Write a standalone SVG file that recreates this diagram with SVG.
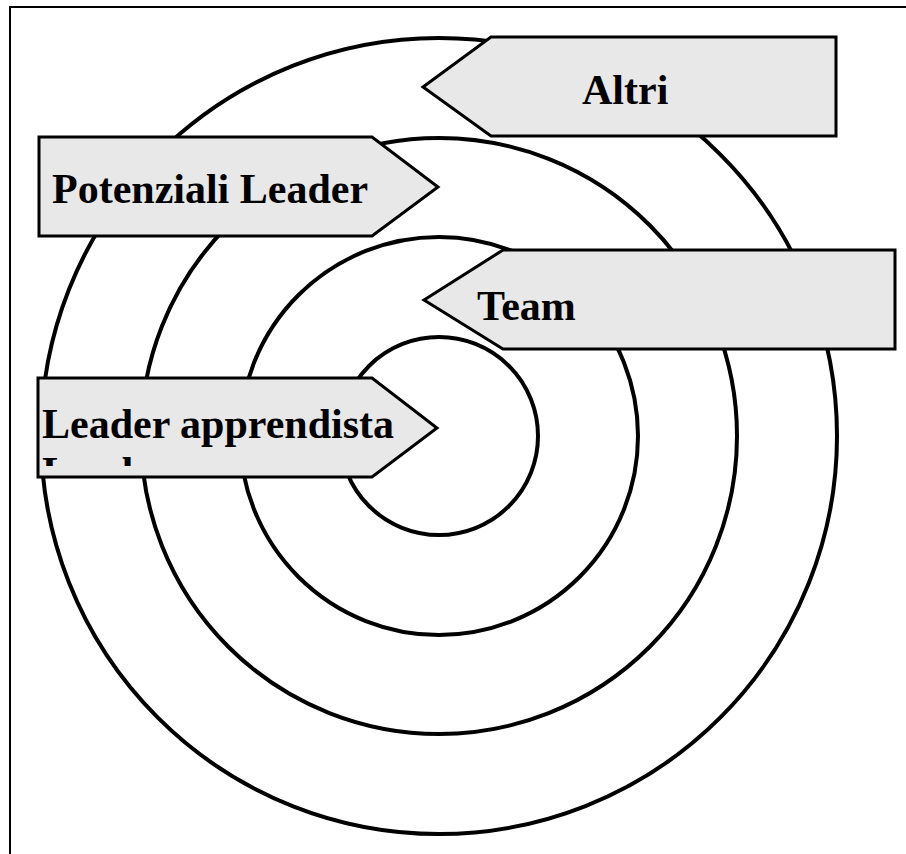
<svg xmlns="http://www.w3.org/2000/svg" width="906" height="854" viewBox="0 0 906 854">
  <style>
    .ring { fill: none; stroke: #000; stroke-width: 4; }
    .arrow { fill: #e8e8e8; stroke: #000; stroke-width: 3; stroke-linejoin: miter; }
    .label { font-family: "Liberation Serif", "Times New Roman", serif; font-weight: bold; font-size: 42px; fill: #000; }
  </style>
  <defs>
    <clipPath id="clipLA">
      <rect x="40" y="380" width="400" height="86"/>
    </clipPath>
  </defs>
  <rect x="0" y="0" width="906" height="854" fill="#fff"/>
  <rect x="10" y="7" width="910" height="870" fill="none" stroke="#000" stroke-width="2"/>

  <g id="rings">
    <circle class="ring" cx="439" cy="436" r="398"/>
    <circle class="ring" cx="439" cy="436" r="298"/>
    <circle class="ring" cx="439" cy="436" r="199"/>
    <circle class="ring" cx="439" cy="436" r="99"/>
  </g>

  <g id="altri">
    <polygon class="arrow" points="423,87 491,37 836,37 836,136 491,136"/>
    <text class="label" x="582" y="104">Altri</text>
  </g>

  <g id="potenziali-leader">
    <polygon class="arrow" points="39,137 372,137 438,187 372,236 39,236"/>
    <text class="label" x="52" y="203">Potenziali Leader</text>
  </g>

  <g id="team">
    <polygon class="arrow" points="424,300 503,250 895,250 895,349 503,349"/>
    <text class="label" x="477" y="320">Team</text>
  </g>

  <g id="leader-apprendista">
    <polygon class="arrow" points="38,378 372,378 437,428 372,477 38,477"/>
    <g clip-path="url(#clipLA)">
      <text class="label" x="42" y="438">Leader apprendista</text>
      <text class="label" x="42" y="486">Leader</text>
    </g>
  </g>

  <g id="connectors"></g>
</svg>
